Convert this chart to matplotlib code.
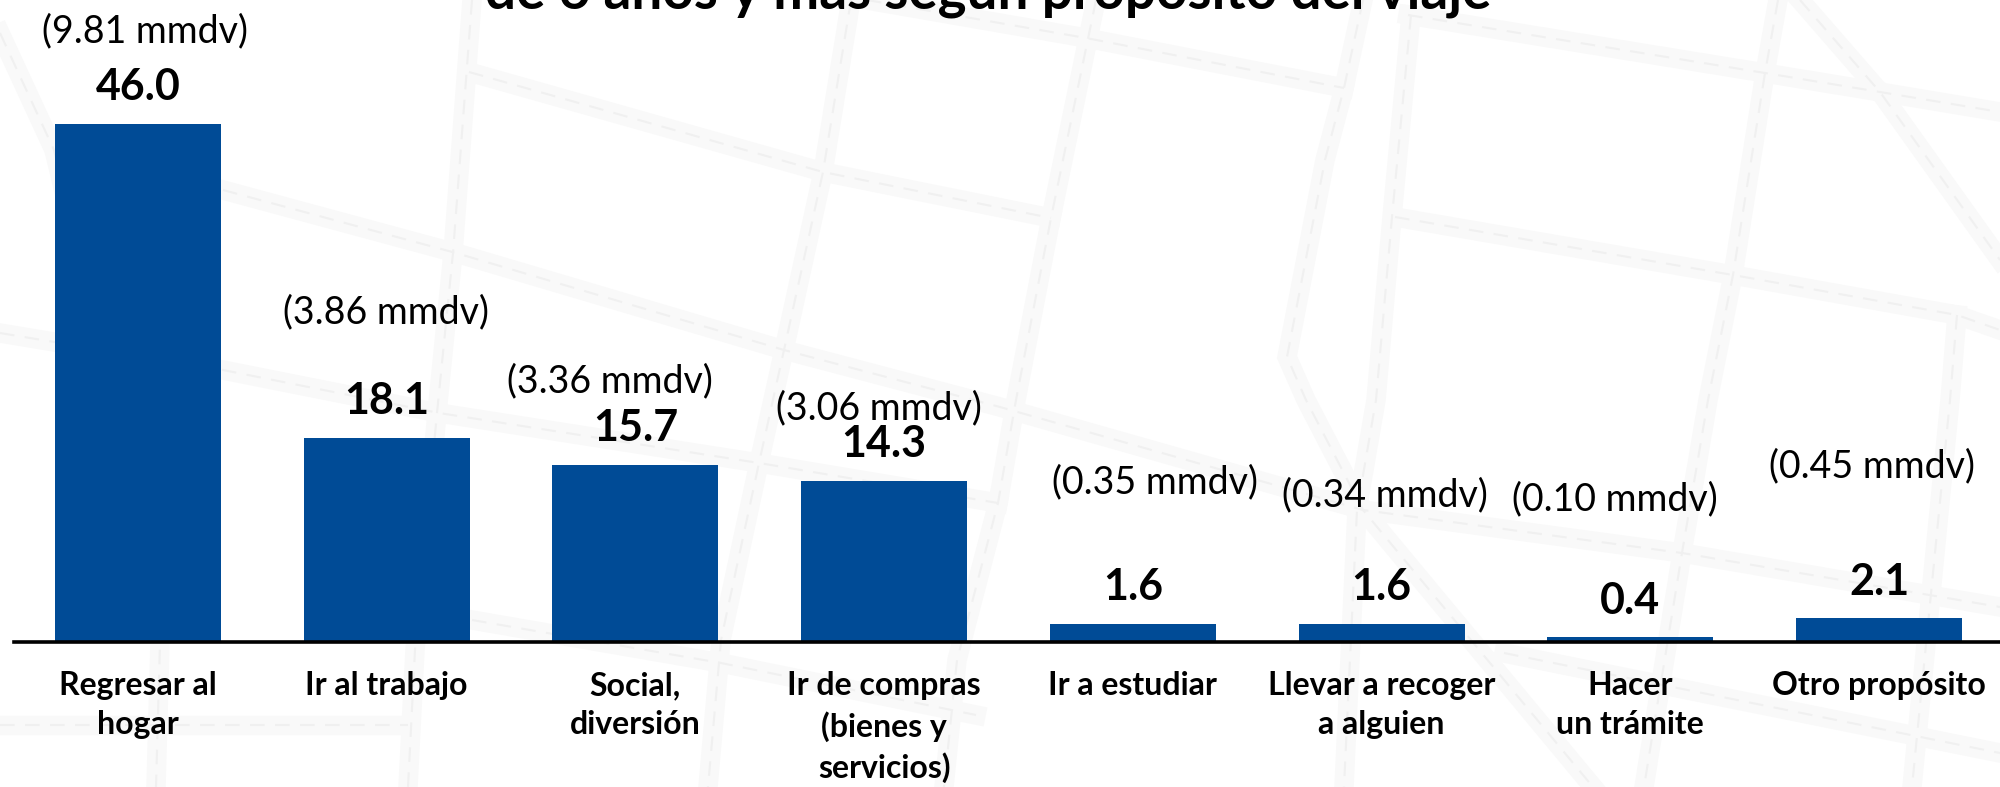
"""Viajes de la población de 6 años y más según propósito del viaje."""

import matplotlib
matplotlib.use("Agg")
import matplotlib.pyplot as plt

plt.rcParams["font.family"] = ["Lato", "DejaVu Sans"]

# Datos
PROPOSITOS = ["Regresar al\nhogar", "Ir al trabajo", "Social,\ndiversión",
              "Ir de compras\n(bienes y\nservicios)", "Ir a estudiar",
              "Llevar a recoger\na alguien", "Hacer\nun trámite", "Otro propósito"]
PORCENTAJES = [46.0, 18.1, 15.7, 14.3, 1.6, 1.6, 0.4, 2.1]
VIAJES = ["(9.81 mmdv)", "(3.86 mmdv)", "(3.36 mmdv)", "(3.06 mmdv)",
          "(0.35 mmdv)", "(0.34 mmdv)", "(0.10 mmdv)", "(0.45 mmdv)"]
TITULO = "de 6 años y más según propósito del viaje"

# Colocación de las etiquetas (mmdv), en píxeles de la imagen
POS_VIAJES = [(145, 31), (386, 312), (610, 381), (879, 408),
              (1155, 482), (1385, 495), (1615, 499), (1872, 466)]

COLOR_BARRA = "#004B96"
COLOR_CALLE = "#F9F9F9"
COLOR_RAYA = "#F0F0F0"

# Trazado del mapa de fondo, en píxeles de la imagen
CALLES = [
    [(0, 33), (54, 150), (90, 300)],
    [(469, 72), (823, 172), (1051, 218)],
    [(867, 0), (1086, 38), (1344, 88)],
    [(223, 190), (456, 253), (784, 350), (1000, 407), (1363, 510), (1682, 553), (2000, 607)],
    [(0, 333), (223, 370), (439, 413), (759, 463), (998, 503)],
    [(1395, 217), (1733, 275), (1957, 315), (2000, 330)],
    [(1408, 15), (1765, 73), (1880, 92), (2000, 112)],
    [(472, 0), (453, 253), (437, 413), (415, 650), (408, 787)],
    [(851, 0), (823, 172), (784, 350), (759, 463), (721, 640), (708, 787)],
    [(1096, 0), (1051, 218), (1016, 400), (998, 503), (957, 660), (944, 787)],
    [(1363, 0), (1344, 88), (1325, 160), (1287, 357), (1306, 400), (1363, 510), (1593, 787)],
    [(1411, 15), (1392, 217), (1376, 400), (1357, 510), (1344, 787)],
    [(1778, 0), (1765, 73), (1733, 275), (1708, 400), (1682, 553), (1644, 787)],
    [(1957, 315), (1950, 400), (1912, 787)],
    [(1800, 0), (1880, 92), (2000, 260)],
    [(0, 725), (408, 725)],
    [(472, 620), (721, 663), (976, 715)],
    [(1504, 653), (2000, 753)],
    [(165, 600), (160, 642), (156, 787)],
]

fig = plt.figure(figsize=(20, 7.87), dpi=100, facecolor="white")

# Fondo: calles claras con raya discontinua
fondo = fig.add_axes([0, 0, 1, 1])
fondo.set_xlim(0, 2000)
fondo.set_ylim(787, 0)
fondo.axis("off")
for calle in CALLES:
    xs = [p[0] for p in calle]
    ys = [p[1] for p in calle]
    fondo.plot(xs, ys, color=COLOR_CALLE, lw=14, solid_joinstyle="miter")
for calle in CALLES:
    xs = [p[0] for p in calle]
    ys = [p[1] for p in calle]
    fondo.plot(xs, ys, color=COLOR_RAYA, lw=1.5, dashes=(7, 5))

# Barras
ax = fig.add_axes([14 / 2000, 1 - 642 / 787, 1986 / 2000, 642 / 787])
ax.patch.set_alpha(0)
x = list(range(len(PORCENTAJES)))
barras = ax.bar(x, PORCENTAJES, width=0.667, color=COLOR_BARRA)
ax.set_xlim(-0.4986, 7.4865)
ax.set_ylim(0, 57)

for spine in ["top", "left", "right"]:
    ax.spines[spine].set_visible(False)
ax.spines["bottom"].set_linewidth(2.6)
ax.spines["bottom"].set_color("black")
ax.set_yticks([])
ax.set_xticks(x)
ax.set_xticklabels(PROPOSITOS, fontsize=23, fontweight="bold", linespacing=1.42)
ax.tick_params(axis="x", length=0, pad=21)

for xi, valor in zip(x, PORCENTAJES):
    ax.annotate(f"{valor:.1f}", (xi, valor), xytext=(0, 26.5), textcoords="offset points",
                ha="center", va="center", fontsize=31, fontweight="bold", color="black")

for texto, (px, py) in zip(VIAJES, POS_VIAJES):
    fondo.text(px, py, texto, ha="center", va="center", fontsize=27, color="black")

fig.text(988 / 2000, 1 - 8 / 787, TITULO, ha="center", va="baseline",
         fontsize=39.4, fontweight="bold", color="black")

fig.savefig("out.png", dpi=100)
